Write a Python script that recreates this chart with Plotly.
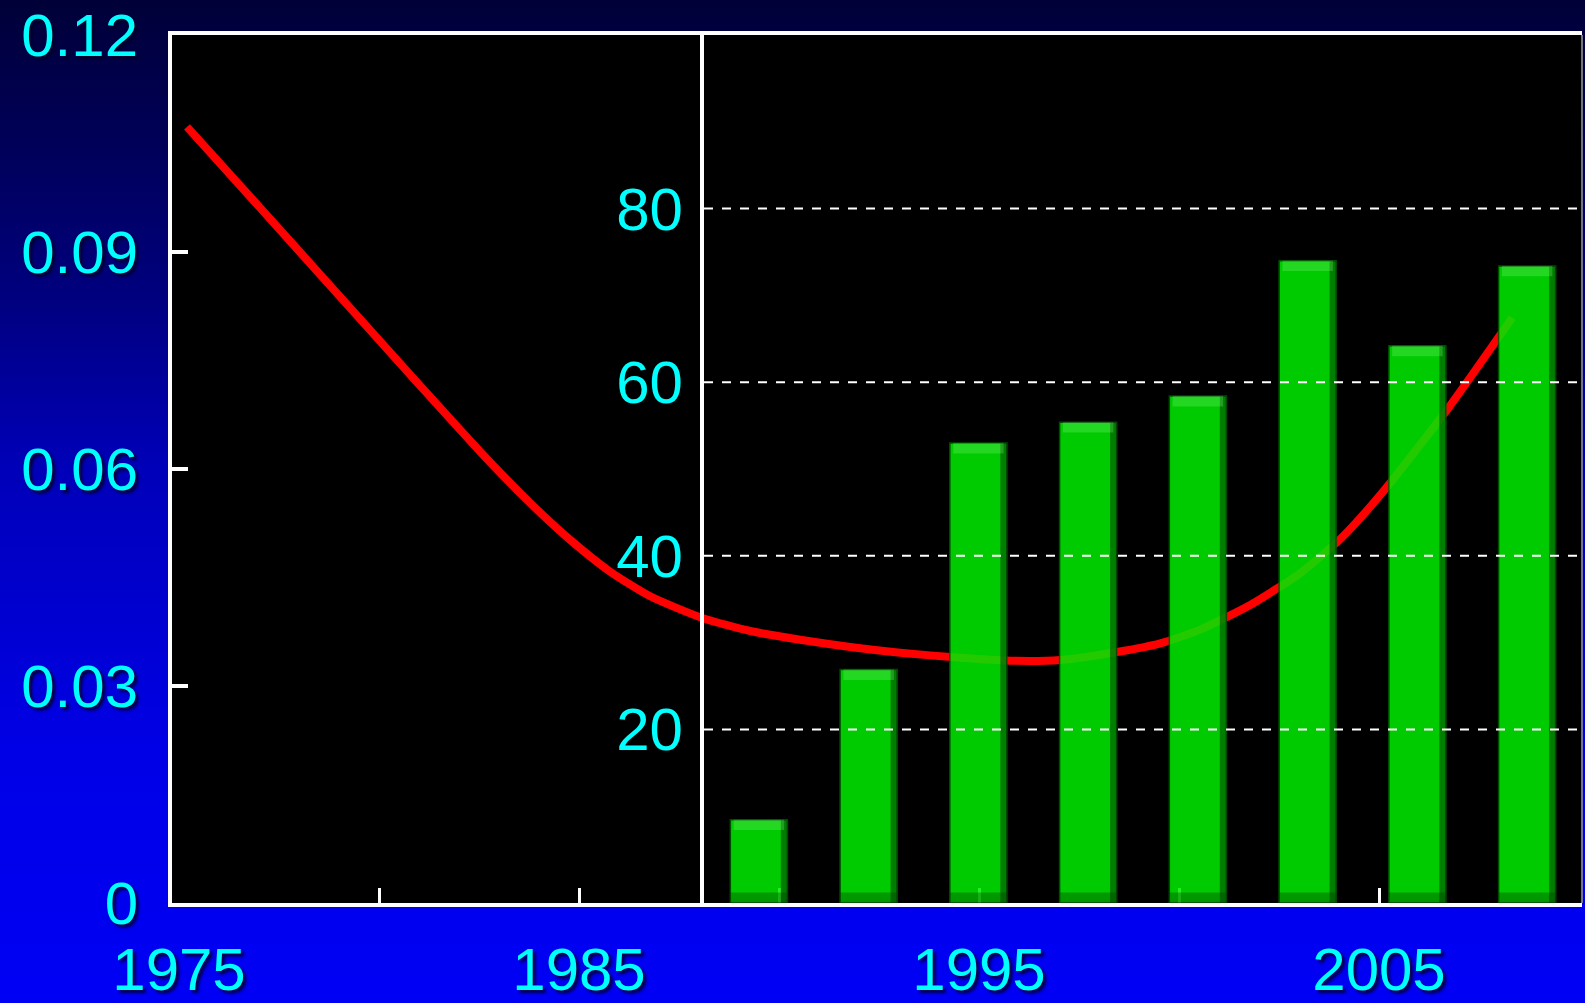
import plotly.graph_objects as go

# ---- data ----
trend_years = [1975.2, 1977.03, 1979.03, 1981.03, 1982.53, 1983.78, 1984.78, 1985.78,
               1986.78, 1988.08, 1989.28, 1990.53, 1991.78, 1993.03, 1994.53, 1995.78,
               1997.03, 1998.45, 1999.53, 2000.53, 2001.78, 2003.03, 2004.03, 2005.03,
               2006.73, 2008.33]
trend_values = [0.1073, 0.0961, 0.0838, 0.0715, 0.0624, 0.0553, 0.0502, 0.0458,
                0.0424, 0.0394, 0.0376, 0.0364, 0.0354, 0.0346, 0.0339, 0.0335,
                0.0336, 0.0347, 0.0359, 0.0378, 0.0412, 0.0456, 0.0503, 0.0564,
                0.0684, 0.0809]

bar_index = [0, 1, 2, 3, 4, 5, 6, 7]
bar_values = [9.6, 26.9, 53.0, 55.4, 58.4, 74.0, 64.2, 73.4]

left_ticks = [0, 0.03, 0.06, 0.09, 0.12]
left_labels = ["0", "0.03", "0.06", "0.09", "0.12"]
year_labels = [1975, 1985, 1995, 2005]
year_ticks = [1980, 1985, 1990, 1995, 2000, 2005]
right_ticks = [20, 40, 60, 80]

# ---- style ----
W, H = 1585, 1003
ML, MR, MT, MB = 172, 3, 35, 100
CYAN = "#00ffff"
FONT = "Liberation Sans"
SHADOW = "3px 3px 3px rgba(0,0,40,0.85)"
label_font = dict(family=FONT, size=60, color=CYAN, shadow=SHADOW)

plot_h = H - MT - MB
inner_start = (704 - ML) / (W - ML - MR)

fig = go.Figure()

# vertical background gradient built from thin strips (paper coordinates)
stops = [(0, (0, 0, 56)), (150, (0, 0, 90)), (300, (0, 0, 128)), (470, (0, 0, 185)),
         (750, (0, 0, 230)), (1003, (0, 0, 245))]


def colour_at(py):
    for (y0, c0), (y1, c1) in zip(stops[:-1], stops[1:]):
        if y0 <= py <= y1:
            t = (py - y0) / (y1 - y0)
            return "rgb(%d,%d,%d)" % tuple(round(a + (b - a) * t) for a, b in zip(c0, c1))
    return "rgb(%d,%d,%d)" % stops[-1][1]


def to_paper(py):
    return (H - MB - py) / plot_h


shapes = []
step = 4
for py in range(0, H, step):
    shapes.append(dict(type="rect", xref="paper", yref="paper",
                       x0=-0.2, x1=1.1, y0=to_paper(py + step + 0.5), y1=to_paper(py),
                       fillcolor=colour_at(py + step / 2), line=dict(width=0), layer="below"))
# black plotting area
shapes.append(dict(type="rect", xref="paper", yref="paper", x0=0, x1=1, y0=0, y1=1,
                   fillcolor="black", line=dict(width=0), layer="below"))
# right frame edge
shapes.append(dict(type="line", xref="paper", yref="paper", x0=1, x1=1, y0=0, y1=1,
                   line=dict(color="#9a9a9a", width=1.5), layer="above"))
# dashed reference lines of the bar scale
for v in right_ticks:
    shapes.append(dict(type="line", xref="x2 domain", yref="y2", x0=0, x1=1, y0=v, y1=v,
                       line=dict(color="white", width=2, dash="9px,9px"), layer="above"))

# red trend curve
fig.add_trace(go.Scatter(x=trend_years, y=trend_values, mode="lines",
                         line=dict(color="#ff0000", width=8, shape="spline", smoothing=0.6),
                         xaxis="x", yaxis="y", hoverinfo="skip", showlegend=False))

# invisible carrier for the tick-only axis
fig.add_trace(go.Scatter(x=[year_ticks[0]], y=[0], mode="markers", marker=dict(opacity=0),
                         xaxis="x3", yaxis="y", hoverinfo="skip", showlegend=False))

BAR_W = 0.52
# main green bars
fig.add_trace(go.Bar(x=bar_index, y=bar_values, width=BAR_W,
                     marker=dict(color="rgb(0,236,0)", line=dict(color="rgb(0,90,0)", width=1.5)),
                     opacity=0.86, xaxis="x2", yaxis="y2", hoverinfo="skip", showlegend=False))
# darker shading on the right side of each bar
fig.add_trace(go.Bar(x=bar_index, y=bar_values, width=0.06, offset=BAR_W / 2 - 0.06,
                     marker=dict(color="rgba(0,50,0,0.5)", line=dict(width=0)),
                     xaxis="x2", yaxis="y2", hoverinfo="skip", showlegend=False))
# light bevel at the top of each bar
bevel = [1.2] * len(bar_values)
fig.add_trace(go.Bar(x=bar_index, y=bevel, base=[v - b for v, b in zip(bar_values, bevel)],
                     width=BAR_W - 0.06,
                     marker=dict(color="rgba(140,255,140,0.25)", line=dict(width=0)),
                     xaxis="x2", yaxis="y2", hoverinfo="skip", showlegend=False))
# darker bevel at the foot of each bar
fig.add_trace(go.Bar(x=bar_index, y=[1.2] * len(bar_values), width=BAR_W,
                     marker=dict(color="rgba(0,60,0,0.35)", line=dict(width=0)),
                     xaxis="x2", yaxis="y2", hoverinfo="skip", showlegend=False))

fig.update_layout(
    width=W, height=H,
    margin=dict(l=ML, r=MR, t=MT, b=MB, pad=0, autoexpand=False),
    paper_bgcolor="#0000f0",
    plot_bgcolor="rgba(0,0,0,0)",
    barmode="overlay",
    shapes=shapes,
    xaxis=dict(range=[1974.825, 2010.075], tickmode="array", tickvals=year_labels,
               ticktext=[str(y) for y in year_labels], ticks="", tickfont=label_font,
               ticklabelstandoff=11, showgrid=False, zeroline=False, automargin=False,
               showline=True, linecolor="white", linewidth=4, mirror=True),
    xaxis3=dict(range=[1974.825, 2010.075], overlaying="x", anchor="y", side="bottom",
                tickmode="array", tickvals=year_ticks, showticklabels=False,
                ticks="inside", ticklen=15, tickwidth=3, tickcolor="white", automargin=False,
                showgrid=False, zeroline=False, showline=False),
    yaxis=dict(range=[0, 0.12], tickmode="array", tickvals=left_ticks, ticktext=left_labels,
               ticks="inside", ticklen=16, tickwidth=4, tickcolor="white", automargin=False,
               tickfont=label_font, ticklabelstandoff=18, showgrid=False, zeroline=False,
               showline=True, linecolor="white", linewidth=4, mirror=False),
    xaxis2=dict(domain=[inner_start, 1], anchor="y2", range=[-0.5, 7.5], visible=False),
    yaxis2=dict(range=[0, 100], anchor="x2", tickmode="array", tickvals=right_ticks,
                ticks="", tickfont=dict(family=FONT, size=60, color=CYAN), automargin=False,
                ticklabelstandoff=5, showgrid=False, zeroline=False,
                showline=True, linecolor="white", linewidth=4),
)

fig.write_html("out.html")
